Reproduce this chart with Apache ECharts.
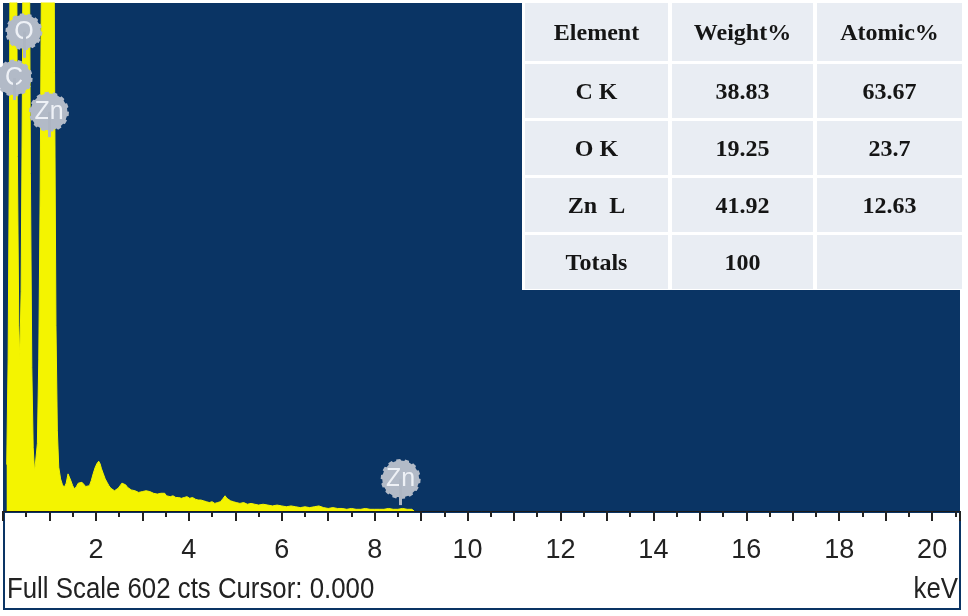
<!DOCTYPE html>
<html>
<head>
<meta charset="utf-8">
<script src="https://cdn.jsdelivr.net/npm/echarts@6/dist/echarts.min.js"></script>
<style>
  html, body { margin: 0; padding: 0; background: #ffffff; }
  #chart { width: 968px; height: 616px; }
</style>
</head>
<body>
<div id="chart"></div>
<script>
// spectrum (keV, counts)
const energyKeV = [
  0.08, 0.11, 0.14, 0.17, 0.20, 0.22, 0.25, 0.28, 0.31, 0.34, 0.36, 0.39, 0.42, 0.45, 0.48, 0.50,
  0.53, 0.56, 0.59, 0.62, 0.65, 0.68, 0.71, 0.74, 0.77, 0.80, 0.84, 0.88, 0.93, 0.98, 1.03, 1.07,
  1.11, 1.14, 1.17, 1.20, 1.24, 1.28, 1.32, 1.36, 1.40, 1.43, 1.46, 1.50, 1.54, 1.58, 1.62, 1.66,
  1.70, 1.74, 1.78, 1.82, 1.86, 1.90, 1.94, 1.98, 2.02, 2.06, 2.09, 2.12, 2.16, 2.20, 2.24, 2.28,
  2.32, 2.36, 2.40, 2.44, 2.48, 2.52, 2.56, 2.60, 2.64, 2.68, 2.72, 2.76, 2.80, 2.84, 2.88, 2.92,
  2.96, 3.00, 3.04, 3.08, 3.12, 3.16, 3.20, 3.24, 3.28, 3.32, 3.36, 3.40, 3.44, 3.48, 3.52, 3.56,
  3.60, 3.66, 3.72, 3.78, 3.84, 3.90, 3.96, 4.02, 4.08, 4.14, 4.20, 4.26, 4.32, 4.38, 4.44, 4.50,
  4.56, 4.62, 4.68, 4.74, 4.78, 4.82, 4.86, 4.90, 4.96, 5.02, 5.10, 5.18, 5.26, 5.34, 5.42, 5.50,
  5.60, 5.70, 5.80, 5.90, 6.00, 6.10, 6.20, 6.30, 6.40, 6.50, 6.60, 6.70, 6.80, 6.90, 7.00, 7.10,
  7.20, 7.30, 7.40, 7.50, 7.60, 7.70, 7.80, 7.90, 8.00, 8.10, 8.20, 8.30, 8.40, 8.50, 8.60, 8.70,
  8.80, 8.85
];
const counts = [
  55, 180, 450, 1000, 1600, 1800, 1500, 900, 420, 220, 180, 260, 520, 1000, 1450, 1600,
  1300, 800, 400, 170, 75, 46, 48, 80, 180, 380, 750, 1300, 1900, 2200, 1800, 1100,
  520, 220, 95, 52, 38, 31, 28, 33, 44, 46, 36, 30, 26, 29, 33, 31,
  34, 32, 29, 27, 30, 36, 44, 51, 56, 59, 56, 50, 44, 38, 34, 30,
  27, 26, 24, 25, 27, 30, 33, 34, 31, 28, 27, 25, 26, 24, 23, 22,
  24, 23, 25, 24, 26, 23, 22, 21, 22, 20, 19, 21, 20, 21, 18, 19,
  17, 18, 16, 16, 15, 16, 17, 15, 16, 14, 13, 13, 12, 11, 10, 11,
  9, 10, 11, 15, 18, 15, 14, 12, 11, 10, 9, 10, 8, 9, 8, 7,
  8, 7, 6, 7, 6, 5, 6, 5, 4, 5, 4, 5, 6, 4, 3, 4,
  3, 3, 2, 3, 2, 2, 3, 2, 2, 2, 2, 3, 2, 2, 3, 2,
  2, 0
];
const fullScale = 602;
const tickLabels = [2, 4, 6, 8, 10, 12, 14, 16, 18, 20];

// element tags and their stems
const tagNames = ['O', 'C', 'Zn', 'Zn'];
const tagKeV = [0.45, 0.24, 0.99, 8.56];
const tagCounts = [568, 513, 473, 38];
const stemBottom = [537, 487, 443, 7];

// table
const tableHeader = ['Element', 'Weight%', 'Atomic%'];
const tableElements = ['C K', 'O K', 'Zn  L', 'Totals'];
const tableWeight = ['38.83', '19.25', '41.92', '100'];
const tableAtomic = ['63.67', '23.7', '12.63', ''];

const plotBlue = '#0a3464';
const specYellow = '#f4f400';
const sans = '"Liberation Sans", Arial, sans-serif';

let gearPath = function(teeth) {
    let pts = [];
    for (let i = 0; i < teeth; i++) {
        let a0 = (i / teeth) * Math.PI * 2;
        let step = Math.PI * 2 / teeth;
        [[0, 100], [0.45, 100], [0.55, 92], [0.95, 92]].forEach(function(p) {
            let a = a0 + p[0] * step;
            pts.push((100 + p[1] * Math.cos(a)).toFixed(1) + ' ' + (100 + p[1] * Math.sin(a)).toFixed(1));
        });
    }
    return 'path://M' + pts.join(' L') + ' Z';
};

let specData = energyKeV.map((e, i) => [e, counts[i]]);

// table drawn as graphic cells on a white backing
let tableGraphics = [{
    type: 'rect', z: 9,
    shape: { x: 522, y: 0, width: 444, height: 290 },
    style: { fill: '#ffffff' }
}];
let cellX = [525, 672, 817];
let cellW = [143, 141, 145];
let rowTop = [3, 64, 121, 178, 235];
let rowH = [58, 54, 54, 54, 54];
let rows = [tableHeader].concat(tableElements.map((el, i) => [el, tableWeight[i], tableAtomic[i]]));
rows.forEach(function(row, r) {
    row.forEach(function(txt, c) {
        tableGraphics.push({
            type: 'rect', z: 10,
            shape: { x: cellX[c], y: rowTop[r], width: cellW[c], height: rowH[r] },
            style: { fill: '#e9edf3' }
        });
        tableGraphics.push({
            type: 'text', z: 11,
            style: {
                text: txt, x: cellX[c] + cellW[c] / 2, y: rowTop[r] + rowH[r] / 2 + 2,
                textAlign: 'center', textVerticalAlign: 'middle',
                font: 'bold 24px "Liberation Serif", "Times New Roman", serif', fill: '#151515'
            }
        });
    });
});

let chart = echarts.init(document.getElementById('chart'), null, { renderer: 'canvas' });

let option = {
    backgroundColor: '#ffffff',
    animation: false,
    grid: {
        left: 2, right: 8, top: 3, bottom: 105,
        show: true, backgroundColor: plotBlue, borderWidth: 0
    },
    xAxis: {
        type: 'value', min: 0, max: 20.6, interval: 1,
        axisLine: { show: true, onZero: false, lineStyle: { color: '#1b1b1b', width: 1 } },
        axisTick: { show: true, length: 10, lineStyle: { color: '#222', width: 2 } },
        minorTick: { show: true, splitNumber: 2, length: 6, lineStyle: { color: '#222', width: 2 } },
        splitLine: { show: false },
        axisLabel: {
            margin: 26, fontSize: 27, color: '#222', fontFamily: sans,
            formatter: v => tickLabels.indexOf(Math.round(v * 10) / 10) >= 0 ? String(v) : ''
        }
    },
    yAxis: { type: 'value', min: 0, max: fullScale, show: false },
    graphic: [
        {
            type: 'rect', z: -1,
            shape: { x: 4, y: 512, width: 956, height: 97 },
            style: { fill: '#ffffff', stroke: plotBlue, lineWidth: 2 }
        },
        {
            type: 'text', z: 5, x: 7, y: 590, scaleX: 0.89,
            style: {
                text: 'Full Scale ' + fullScale + ' cts Cursor: 0.000', x: 0, y: 0,
                textVerticalAlign: 'middle', font: '29px ' + sans, fill: '#222'
            }
        },
        {
            type: 'text', z: 5, x: 958, y: 590, scaleX: 0.89,
            style: {
                text: 'keV', x: 0, y: 0, textAlign: 'right',
                textVerticalAlign: 'middle', font: '29px ' + sans, fill: '#222'
            }
        }
    ].concat(tableGraphics),
    series: [
        {
            type: 'line',
            data: specData,
            showSymbol: false,
            clip: true,
            lineStyle: { color: specYellow, width: 1 },
            areaStyle: { color: specYellow, opacity: 1 },
            z: 2,
            markLine: {
                silent: true, symbol: ['none', 'none'],
                label: { show: false },
                lineStyle: { color: '#aeb6c3', width: 3, type: 'solid' },
                data: tagKeV.map((e, i) => [{ coord: [e, tagCounts[i]] }, { coord: [e, stemBottom[i]] }])
            }
        },
        {
            type: 'scatter',
            z: 4,
            data: tagKeV.map((e, i) => ({ name: tagNames[i], value: [e, tagCounts[i]] })),
            symbol: gearPath(14),
            symbolSize: (v, p) => p.name === 'Zn' ? 40 : 37,
            itemStyle: { color: '#b2bac7', opacity: 1 },
            label: {
                show: true, position: 'inside', formatter: '{b}',
                color: '#eef1f6', fontSize: 25, fontFamily: sans
            }
        }
    ]
};

chart.setOption(option);
</script>
</body>
</html>
